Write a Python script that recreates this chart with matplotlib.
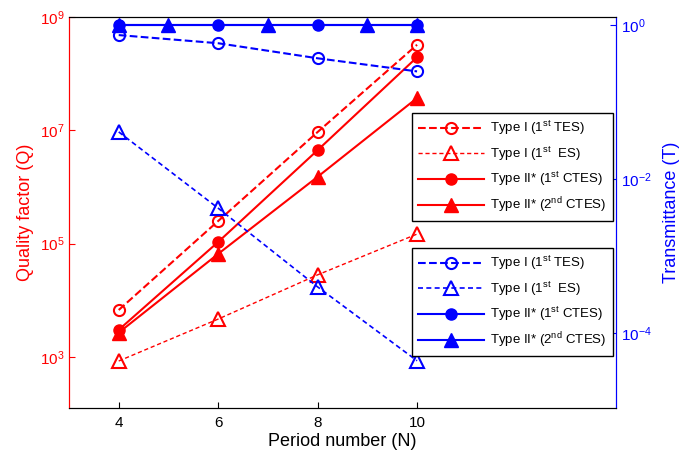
import numpy as np
import matplotlib
matplotlib.use('Agg')
import matplotlib.pyplot as plt
from matplotlib.ticker import NullLocator

plt.rcParams['font.family'] = ['Liberation Sans', 'DejaVu Sans']
plt.rcParams['mathtext.fontset'] = 'custom'
plt.rcParams['mathtext.rm'] = 'Liberation Sans'
plt.rcParams['mathtext.default'] = 'regular'

# period number
N = [4, 6, 8, 10]

# quality factor (left axis)
Q_typeI_tes = [10**3.83, 10**5.40, 10**6.97, 10**8.51]
Q_typeI_es = [10**2.93, 10**3.67, 10**4.45, 10**5.17]
Q_typeII_1st = [10**3.48, 10**5.03, 10**6.65, 10**8.29]
Q_typeII_2nd = [10**3.43, 10**4.82, 10**6.18, 10**7.57]

# transmittance (right axis)
T_typeI_tes = [0.74, 0.58, 0.37, 0.25]
T_typeI_es = [0.041, 4.2e-3, 4.0e-4, 4.4e-5]
N_typeII_1st = [4, 6, 8, 10]
T_typeII_1st = [0.99, 0.99, 0.99, 0.99]
N_typeII_2nd = [4, 5, 7, 9, 10]
T_typeII_2nd = [0.99, 0.99, 0.99, 0.99, 0.99]

labels = ['Type I (1$^{st}$ TES)', 'Type I (1$^{st}$  ES)',
          'Type II* (1$^{st}$ CTES)', 'Type II* (2$^{nd}$ CTES)']

fig = plt.figure(figsize=(6.85, 4.59), dpi=100)
ax = fig.add_axes([0.1007, 0.111, 0.7985, 0.852])
ax2 = ax.twinx()

# red: Q
r1, = ax.plot(N, Q_typeI_tes, '--', color='red', lw=1.5, marker='o', ms=8, mfc='none', mew=1.5)
r2, = ax.plot(N, Q_typeI_es, '--', color='red', lw=1.0, marker='^', ms=10, mfc='none', mew=1.5, dashes=(3, 2))
r3, = ax.plot(N, Q_typeII_1st, '-', color='red', lw=1.5, marker='o', ms=8)
r4, = ax.plot(N, Q_typeII_2nd, '-', color='red', lw=1.5, marker='^', ms=10)

# blue: T
b1, = ax2.plot(N, T_typeI_tes, '--', color='blue', lw=1.5, marker='o', ms=8, mfc='none', mew=1.5)
b2, = ax2.plot(N, T_typeI_es, '--', color='blue', lw=1.2, marker='^', ms=10, mfc='none', mew=1.5, dashes=(3, 2))
b4, = ax2.plot(N_typeII_2nd, T_typeII_2nd, '-', color='blue', lw=1.5, marker='^', ms=10)
b3, = ax2.plot(N_typeII_1st, T_typeII_1st, '-', color='blue', lw=1.5, marker='o', ms=8)

ax.set_yscale('log')
ax2.set_yscale('log')
ax.set_xlim(3, 14)
ax.set_ylim(10**2.1, 1e9)
ax2.set_ylim(10**-4.97, 10**0.104)
ax.set_xticks([4, 6, 8, 10])
ax.set_yticks([1e3, 1e5, 1e7, 1e9])
ax2.set_yticks([1e-4, 1e-2, 1e0])
ax.yaxis.set_minor_locator(NullLocator())
ax2.yaxis.set_minor_locator(NullLocator())

ax.tick_params(axis='x', direction='in', length=4, labelsize=11, colors='black', pad=6)
ax.tick_params(axis='y', direction='in', length=4, labelsize=11, colors='red')
ax2.tick_params(axis='y', direction='in', length=4, labelsize=11, colors='blue')

ax.spines['left'].set_color('red')
ax2.spines['left'].set_color('red')
ax2.spines['right'].set_color('blue')
ax.spines['right'].set_color('blue')

ax.set_xlabel('Period number (N)', fontsize=13, labelpad=2)
ax.set_ylabel('Quality factor (Q)', fontsize=13, color='red', labelpad=4)
ax2.set_ylabel('Transmittance (T)', fontsize=13, color='blue', labelpad=8)

leg_opts = dict(loc='upper left', borderaxespad=0, fontsize=9.5, handlelength=5.0,
                fancybox=False, edgecolor='black', framealpha=1, labelspacing=0.55,
                handletextpad=0.5, borderpad=0.45)
leg1 = ax2.legend([r1, r2, r3, r4], labels, bbox_to_anchor=(0.627, 0.754), **leg_opts)
leg1.get_frame().set_linewidth(1.0)
ax2.add_artist(leg1)
leg2 = ax2.legend([b1, b2, b3, b4], labels, bbox_to_anchor=(0.627, 0.409), **leg_opts)
leg2.get_frame().set_linewidth(1.0)

fig.savefig('out.png', dpi=100)
